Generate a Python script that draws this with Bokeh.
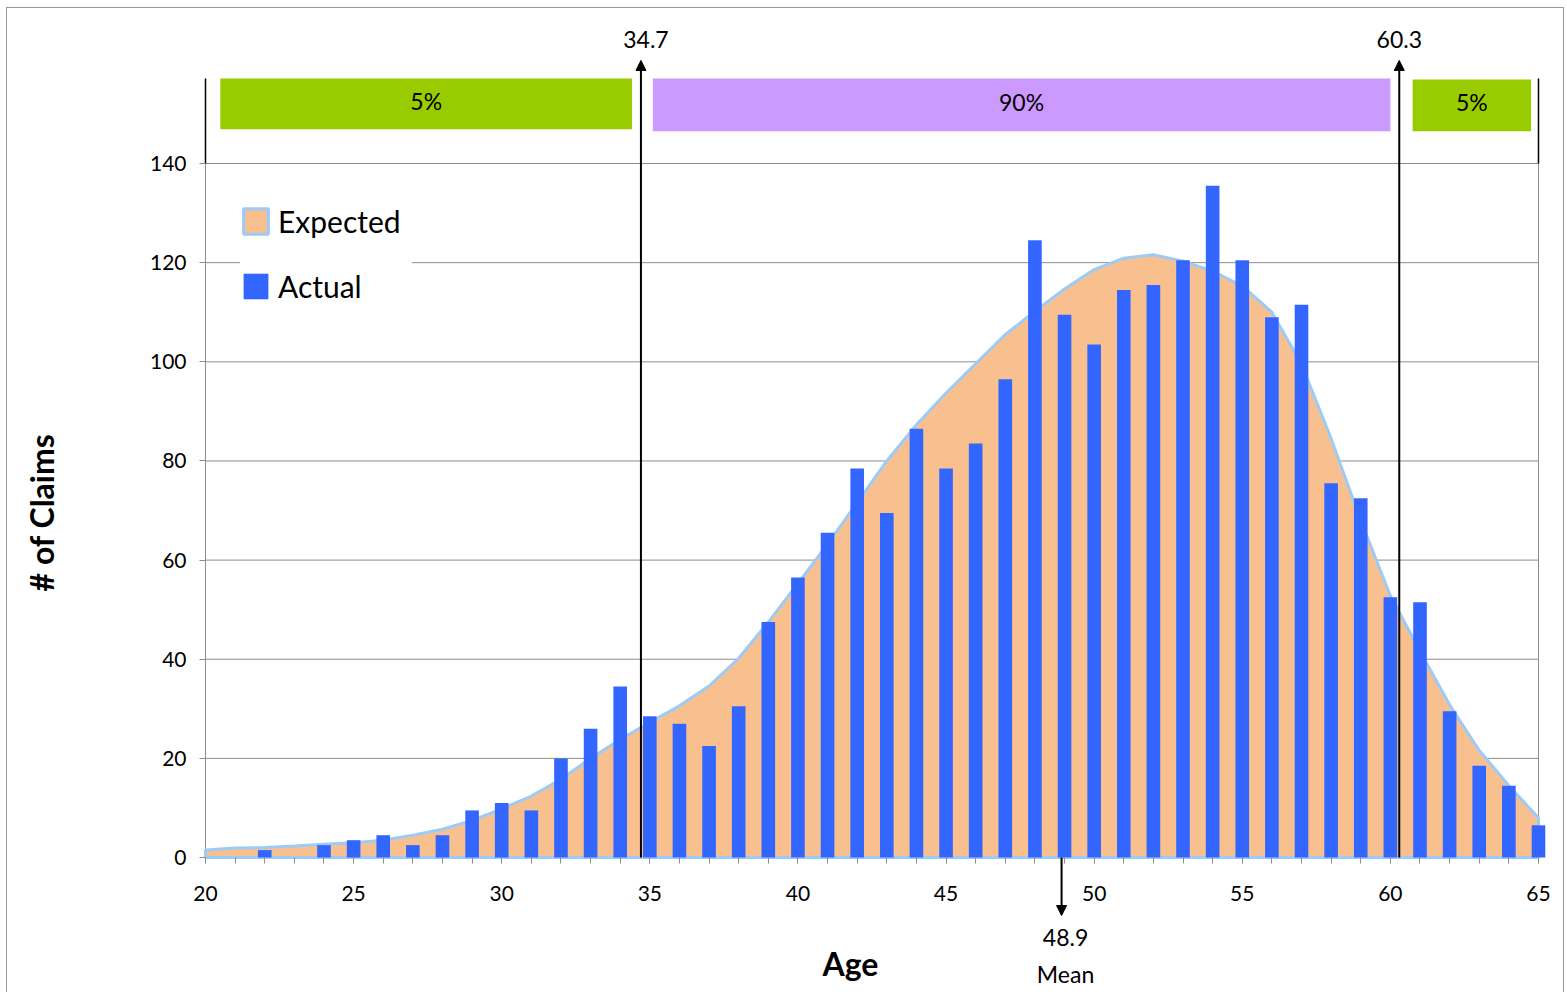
from bokeh.plotting import figure
from bokeh.models import (Range1d, FixedTicker, Arrow, NormalHead, Legend,
                          LegendItem, ColumnDataSource)
from bokeh.core.properties import value
from bokeh.embed import file_html
from bokeh.resources import INLINE

# ---------------- data ----------------
ages = list(range(20, 66))
actual = [0, 0, 1.5, 0, 2.5, 3.5, 4.5, 2.5, 4.5, 9.5,
          11, 9.5, 20, 26, 34.5, 28.5, 27, 22.5, 30.5, 47.5,
          56.5, 65.5, 78.5, 69.5, 86.5, 78.5, 83.5, 96.5, 124.5, 109.5,
          103.5, 114.5, 115.5, 120.5, 135.5, 120.5, 109, 111.5, 75.5, 72.5,
          52.5, 51.5, 29.5, 18.5, 14.5, 6.5]
expected = [1.5, 1.9, 2.0, 2.3, 2.7, 3.0, 3.5, 4.5, 5.7, 7.5,
            9.8, 12.4, 15.8, 20.0, 23.8, 27.3, 30.6, 34.6, 40.2, 47.5,
            55.3, 63.2, 71.6, 80.0, 87.3, 93.7, 99.6, 105.5, 110.2, 114.7,
            118.6, 120.9, 121.6, 120.3, 118.3, 115.3, 110.0, 99.5, 84.5, 68.0,
            52.8, 41.6, 30.8, 21.6, 14.5, 8.0]
x_ticks = [20, 25, 30, 35, 40, 45, 50, 55, 60, 65]
y_ticks = [0, 20, 40, 60, 80, 100, 120, 140]

p5_age = 34.7
p95_age = 60.3
mean_age = 48.9

band_labels = ["5%", "90%", "5%"]
band_colors = ["#99CC00", "#CC99FF", "#99CC00"]
band_left = [20.5, 35.1, 60.75]
band_right = [34.4, 60.0, 64.75]
band_bottom = [146.9, 146.5, 146.5]
band_top = [157.15, 157.15, 156.95]

FONT = "Lato"
GRAY = "#8c8c8c"
X_MIN, X_MAX = 20, 65
Y_MAX = 140
BRACKET_TOP = 157.15
ARROW_TOP = 160.8
LABEL_Y = 165.0
MEAN_ARROW_END = -11.7
MEAN_VALUE_Y = -16.1
MEAN_TEXT_Y = -23.4

# ---------------- figure ----------------
p = figure(width=1565, height=992, output_backend="svg", toolbar_location=None,
           x_range=Range1d(13.0795, 65.912), y_range=Range1d(-27.23, 167.24),
           min_border_left=0, min_border_right=0,
           min_border_top=28, min_border_bottom=0)
p.outline_line_color = None
p.background_fill_color = None
p.border_fill_color = None
p.styles = {
    "background": ("linear-gradient(#9a9a9a,#9a9a9a) 6px 7px / 1px 100% no-repeat, "
                   "linear-gradient(#9a9a9a,#9a9a9a) 6px 7px / 1558px 1px no-repeat, "
                   "linear-gradient(#9a9a9a,#9a9a9a) 1563px 7px / 1px 100% no-repeat, "
                   "white"),
}

# axes (drawn at fixed data locations)
p.xaxis.ticker = FixedTicker(ticks=x_ticks, minor_ticks=ages)
p.yaxis.ticker = FixedTicker(ticks=y_ticks)
p.xaxis.fixed_location = 0
p.yaxis.fixed_location = X_MIN
p.xaxis.bounds = (18.56, X_MAX)
p.yaxis.bounds = (-0.8, Y_MAX)
for ax in (p.xaxis[0], p.yaxis[0]):
    ax.axis_line_color = None
    ax.major_tick_line_color = GRAY
    ax.minor_tick_line_color = GRAY
    ax.major_tick_in = 0
    ax.major_tick_out = 6
    ax.minor_tick_in = 0
    ax.minor_tick_out = 6
    ax.major_label_text_font = FONT
    ax.major_label_text_font_size = "21px"
    ax.major_label_text_color = "black"
    ax.axis_label_text_font = FONT
    ax.axis_label_text_font_size = "32px"
    ax.axis_label_text_font_style = "bold"
    ax.axis_label_text_color = "black"
p.xaxis.axis_label = "Age"
p.yaxis.axis_label = "# of Claims"
p.xaxis.major_label_standoff = 22
p.yaxis.major_label_standoff = 13
p.xaxis.axis_label_standoff = 40
p.yaxis.axis_label_standoff = 86

p.xgrid.grid_line_color = None
p.ygrid.grid_line_color = None

# horizontal grid lines limited to the plot area
p.segment(x0=[X_MIN] * len(y_ticks), y0=y_ticks, x1=[X_MAX] * len(y_ticks),
          y1=y_ticks, line_color=GRAY, line_width=1)
# plot-area side lines (gray) and bracket lines above (black)
p.segment(x0=[X_MIN, X_MAX], y0=[0, 0], x1=[X_MIN, X_MAX],
          y1=[Y_MAX, Y_MAX], line_color=GRAY, line_width=1)
p.segment(x0=[X_MIN, X_MAX], y0=[Y_MAX, Y_MAX], x1=[X_MIN, X_MAX],
          y1=[BRACKET_TOP, BRACKET_TOP], line_color="black", line_width=1.5)

# ---------------- data glyphs ----------------
area_x = ages + [ages[-1], ages[0]]
area_y = expected + [0, 0]
exp_r = p.patch(area_x, area_y, fill_color="#F9C08F", line_color="#9DCBF7",
                line_width=3)

src = ColumnDataSource(dict(age=ages, actual=actual))
act_r = p.vbar(x="age", top="actual", width=0.46, source=src,
               fill_color="#3366FF", line_color=None)

legend = Legend(items=[LegendItem(label="Expected", renderers=[exp_r]),
                       LegendItem(label="Actual", renderers=[act_r])],
                location=(240, 688))
legend.label_text_font = FONT
legend.label_text_font_size = "30px"
legend.label_text_color = "black"
legend.glyph_width = 31
legend.glyph_height = 32
legend.label_standoff = 7
legend.label_width = 134
legend.spacing = 29
legend.padding = 10
legend.margin = 0
legend.border_line_color = None
legend.background_fill_color = "white"
legend.background_fill_alpha = 1.0
p.add_layout(legend, "center")

# ---------------- percentile bands above the plot ----------------
p.quad(left=band_left, right=band_right, bottom=band_bottom, top=band_top,
       fill_color=band_colors, line_color=None)
p.text(x=[(l + r) / 2 for l, r in zip(band_left, band_right)],
       y=[(b + t) / 2 for b, t in zip(band_bottom, band_top)],
       text=band_labels, y_offset=-3, text_align="center",
       text_baseline="middle",
       text_font=value(FONT), text_font_size="23px", text_color="black")

# percentile arrows
for pa in (p5_age, p95_age):
    p.add_layout(Arrow(x_start=pa, y_start=0, x_end=pa, y_end=ARROW_TOP,
                       end=NormalHead(size=10, fill_color="black",
                                      line_color="black"),
                       line_color="black", line_width=2))
p.text(x=[p5_age, p95_age], y=[LABEL_Y, LABEL_Y],
       text=[f"{p5_age:.1f}", f"{p95_age:.1f}"], x_offset=[5, 0],
       text_align="center", text_baseline="middle",
       text_font=value(FONT), text_font_size="23px", text_color="black")

# mean arrow below the axis
p.add_layout(Arrow(x_start=mean_age, y_start=0, x_end=mean_age,
                   y_end=MEAN_ARROW_END,
                   end=NormalHead(size=10, fill_color="black", line_color="black"),
                   line_color="black", line_width=2))
p.text(x=[mean_age, mean_age], y=[MEAN_VALUE_Y, MEAN_TEXT_Y],
       text=[f"{mean_age:.1f}", "Mean"], x_offset=4,
       text_align="center", text_baseline="middle",
       text_font=value(FONT), text_font_size="23px", text_color="black")

open("out.html", "w").write(file_html(p, INLINE))
